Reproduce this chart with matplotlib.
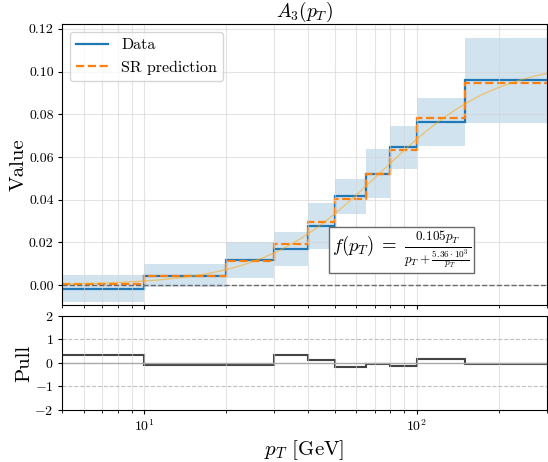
import numpy as np
import matplotlib
matplotlib.use("Agg")
import matplotlib.pyplot as plt

# ==========================================================
# A3(pT) : data vs SR prediction
# ==========================================================

plt.rcParams["font.family"] = "serif"
plt.rcParams["font.serif"] = ["cmr10"]
plt.rcParams["mathtext.fontset"] = "cm"
plt.rcParams["axes.formatter.use_mathtext"] = True

bin_edges = [5, 10, 20, 30, 40, 50, 65, 80, 100, 150, 300]
data_vals = [-0.0016, 0.0045, 0.0117, 0.0169, 0.0278, 0.0415, 0.0522, 0.0645, 0.0762, 0.0958]
pred_vals = [0.0005, 0.0042, 0.0111, 0.0194, 0.0297, 0.0403, 0.0519, 0.0634, 0.0783, 0.0948]
data_err = [0.0062, 0.0053, 0.0085, 0.0081, 0.0108, 0.0082, 0.0116, 0.0100, 0.0112, 0.0200]
pull_vals = [0.36, -0.09, -0.09, 0.34, 0.11, -0.17, -0.05, -0.12, 0.18, -0.03]

# fitted curve parameters (from the formula in the box)
fit_a = 0.105
fit_b = 5.36e3

edges = np.array(bin_edges, dtype=float)
data = np.array(data_vals)
pred = np.array(pred_vals)
err = np.array(data_err)

fig = plt.figure(figsize=(5.48, 4.62), dpi=100)
ax = fig.add_axes([0.1131, 0.3398, 0.885, 0.6085])
axp = fig.add_axes([0.1131, 0.1126, 0.885, 0.2035], sharex=ax)

# ---------------- main panel ----------------
ax.stairs(data + err, edges, baseline=data - err, fill=True,
          color="C0", alpha=0.2, linewidth=0)
ax.stairs(data, edges, baseline=None, color="C0", linewidth=1.6, label="Data")
ax.stairs(pred, edges, baseline=None, color="C1", linewidth=1.6, linestyle="--",
          label="SR prediction")

pt = np.logspace(np.log10(edges[0]), np.log10(edges[-1]), 300)
ax.plot(pt, fit_a * pt / (pt + fit_b / pt), color="orange", alpha=0.5, linewidth=1)

ax.axhline(0, color="dimgray", linestyle="--", linewidth=1)

ax.set_xscale("log")
ax.set_xlim(edges[0], edges[-1])
ax.set_ylim(-0.0093, 0.1223)
ax.set_yticks([0.0, 0.02, 0.04, 0.06, 0.08, 0.10, 0.12])
ax.set_yticklabels(["0.00", "0.02", "0.04", "0.06", "0.08", "0.10", "0.12"])
ax.tick_params(labelbottom=False, labelsize=10, length=3, pad=3)
ax.tick_params(which="minor", length=2)
ax.grid(True, which="both", axis="x", color="lightgray", alpha=0.6, linewidth=0.8)
ax.grid(True, which="major", axis="y", color="lightgray", alpha=0.6, linewidth=0.8)
ax.set_ylabel("Value", fontsize=15, labelpad=1)
ax.set_title(r"$A_3(p_T)$", fontsize=14, pad=5)
ax.legend(loc="upper left", fontsize=11.5, framealpha=0.8)

ax.text(0.70, 0.196,
        r"$f(p_T)\;=\;\frac{0.105 p_T}{p_T + \frac{5.36 \cdot 10^3}{p_T}}$",
        transform=ax.transAxes, ha="center", va="center", fontsize=13.5,
        bbox=dict(boxstyle="square,pad=0.15", facecolor="white", edgecolor="dimgray"))

# ---------------- pull panel ----------------
axp.stairs(pull_vals, edges, baseline=None, color="#444444", linewidth=1.5)
axp.axhline(0, color="darkgray", linewidth=1)
axp.axhline(1, color="silver", linestyle="--", linewidth=0.8)
axp.axhline(-1, color="silver", linestyle="--", linewidth=0.8)

axp.set_ylim(-2, 2)
axp.set_yticks([-2, -1, 0, 1, 2])
axp.tick_params(labelsize=10, length=3, pad=3)
axp.tick_params(which="minor", length=2)
axp.grid(True, which="both", axis="x", color="lightgray", alpha=0.6, linewidth=0.8)
axp.set_ylabel("Pull", fontsize=15, labelpad=1)
axp.set_xlabel(r"$p_T$ [GeV]", fontsize=15, labelpad=3)

fig.savefig("out.png", dpi=100)
